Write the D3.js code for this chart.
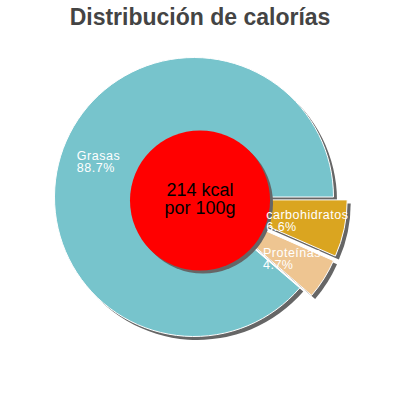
<!DOCTYPE html>
<html><head><meta charset="utf-8">
<script src="https://cdn.jsdelivr.net/npm/d3@7"></script>
<style>html,body{margin:0;padding:0;background:#fff;}svg{display:block;}</style>
</head><body>
<svg id="chart" width="400" height="400"></svg>
<script>
const title = "Distribución de calorías";
const categories = ["carbohidratos", "Proteínas", "Grasas"];
const values = [6.6, 4.7, 88.7];
const colors = ["#daa520", "#eec591", "#77c4cc"];
const centerLines = ["214 kcal", "por 100g"];

const svg = d3.select("#chart");
const cx = 194, cy = 197, R = 139.5, explodeDist = 14, shadowOff = 3.5;

svg.append("text").attr("x", 200).attr("y", 25).attr("text-anchor", "middle")
  .style("font-family", "'Liberation Sans', Arial, sans-serif").style("font-weight", "bold")
  .style("font-size", "23px").attr("fill", "#444").text(title);

const data = categories.map((c, i) => ({ name: c, value: values[i], color: colors[i] }));
const pie = d3.pie().sort(null).value(d => d.value).startAngle(Math.PI / 2).endAngle(Math.PI / 2 + 2 * Math.PI);
const arcs = pie(data);
const arc = d3.arc().innerRadius(0).outerRadius(R);
const labelArc = d3.arc().innerRadius(R * 0.73).outerRadius(R * 0.73);

function offset(a) {
  if (a.data.value >= 50) return [0, 0];
  const m = (a.startAngle + a.endAngle) / 2;
  return [Math.sin(m) * explodeDist, -Math.cos(m) * explodeDist];
}

const g = svg.append("g").attr("transform", `translate(${cx},${cy})`);
g.selectAll("path.shadow").data(arcs).enter().append("path").attr("class", "shadow")
  .attr("d", arc).attr("fill", "#666")
  .attr("transform", d => { const o = offset(d); return `translate(${o[0] + shadowOff},${o[1] + shadowOff})`; });
g.selectAll("path.slice").data(arcs).enter().append("path").attr("class", "slice")
  .attr("d", arc).attr("fill", d => d.data.color).attr("stroke", "#fff").attr("stroke-width", 1)
  .attr("stroke-linejoin", "round")
  .attr("transform", d => { const o = offset(d); return `translate(${o[0]},${o[1]})`; });

const ccx = 200, ccy = 200.5, cr = 70;
svg.append("circle").attr("cx", ccx + 3).attr("cy", ccy + 3).attr("r", cr).attr("fill", "#666");
svg.append("circle").attr("cx", ccx).attr("cy", ccy).attr("r", cr).attr("fill", "#ff0000");
centerLines.forEach((t, i) => {
  svg.append("text").attr("x", ccx).attr("y", 195.5 + i * 18).attr("text-anchor", "middle")
    .style("font-family", "'Liberation Sans', Arial, sans-serif").style("font-size", "18px")
    .attr("fill", "#000").text(t);
});

arcs.forEach(a => {
  const o = offset(a);
  const c = labelArc.centroid(a);
  const px = cx + c[0] + o[0], py = cy + c[1] + o[1];
  const t = svg.append("text")
    .style("font-family", "'Liberation Sans', Arial, sans-serif").style("font-size", "12.5px")
    .style("letter-spacing", "0.5px").attr("fill", "#fff");
  const t1 = t.append("tspan").attr("y", py - 1.5).text(a.data.name);
  const t2 = t.append("tspan").attr("y", py - 1.5 + 11.5).text(a.data.value.toFixed(1) + "%");
  const w = Math.max(t1.node().getComputedTextLength(), t2.node().getComputedTextLength());
  t1.attr("x", px - w / 2); t2.attr("x", px - w / 2);
});
</script>
</body></html>
